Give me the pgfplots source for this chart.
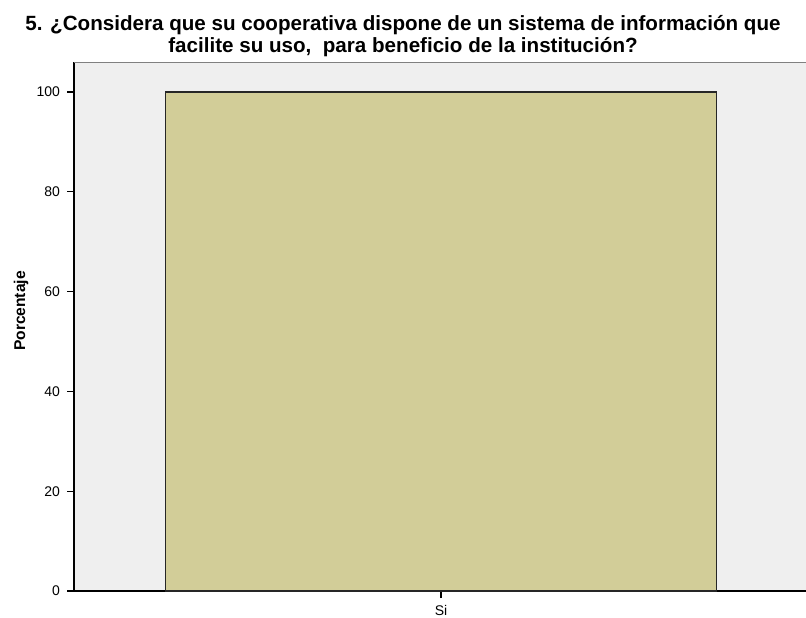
\documentclass[border=0pt]{standalone}
\usepackage{fontspec}
\setmainfont{Liberation Sans}
\usepackage{pgfplots}
\pgfplotsset{compat=1.18}
\definecolor{bgc}{HTML}{EFEFEF}
\definecolor{barc}{HTML}{D2CD98}
\begin{document}
\begin{tikzpicture}
\path[use as bounding box] (0,0) rectangle (403pt,308.5pt);
\begin{axis}[
  at={(37pt,13pt)}, anchor=south west,
  scale only axis, width=366pt, height=264.5pt,
  xmin=-1, xmax=0.9946, ymin=0, ymax=106,
  axis x line*=bottom, axis y line*=left,
  axis line style={black, line width=0.6pt},
  axis background/.style={fill=bgc},
  xtick={0}, xticklabels={Si},
  ytick={0,20,40,60,80,100},
  tick align=outside, major tick length=3.5pt,
  tick style={black, line width=0.6pt},
  tick label style={font=\fontsize{7}{8}\selectfont},
  /pgf/number format/assume math mode=true,
]
\addplot[ybar, bar width=1.501, fill=barc, draw=black!85, line width=0.6pt] coordinates {(0,100)};
\draw[gray, line width=1pt] (rel axis cs:0,1) -- (rel axis cs:1,1);
\end{axis}
\node[rotate=90, font=\bfseries\fontsize{7.8}{9}\selectfont] at (10.5pt,153pt) {Porcentaje};
\node[anchor=base, inner sep=0pt, font=\bfseries\fontsize{10.3}{11}\selectfont] at (201.5pt,293.2pt) {5. ¿Considera que su cooperativa dispone de un sistema de información que};
\node[anchor=base, inner sep=0pt, font=\bfseries\fontsize{10.3}{11}\selectfont] at (201.5pt,282pt) {facilite su uso,\ \ para beneficio de la institución?};
\end{tikzpicture}
\end{document}
